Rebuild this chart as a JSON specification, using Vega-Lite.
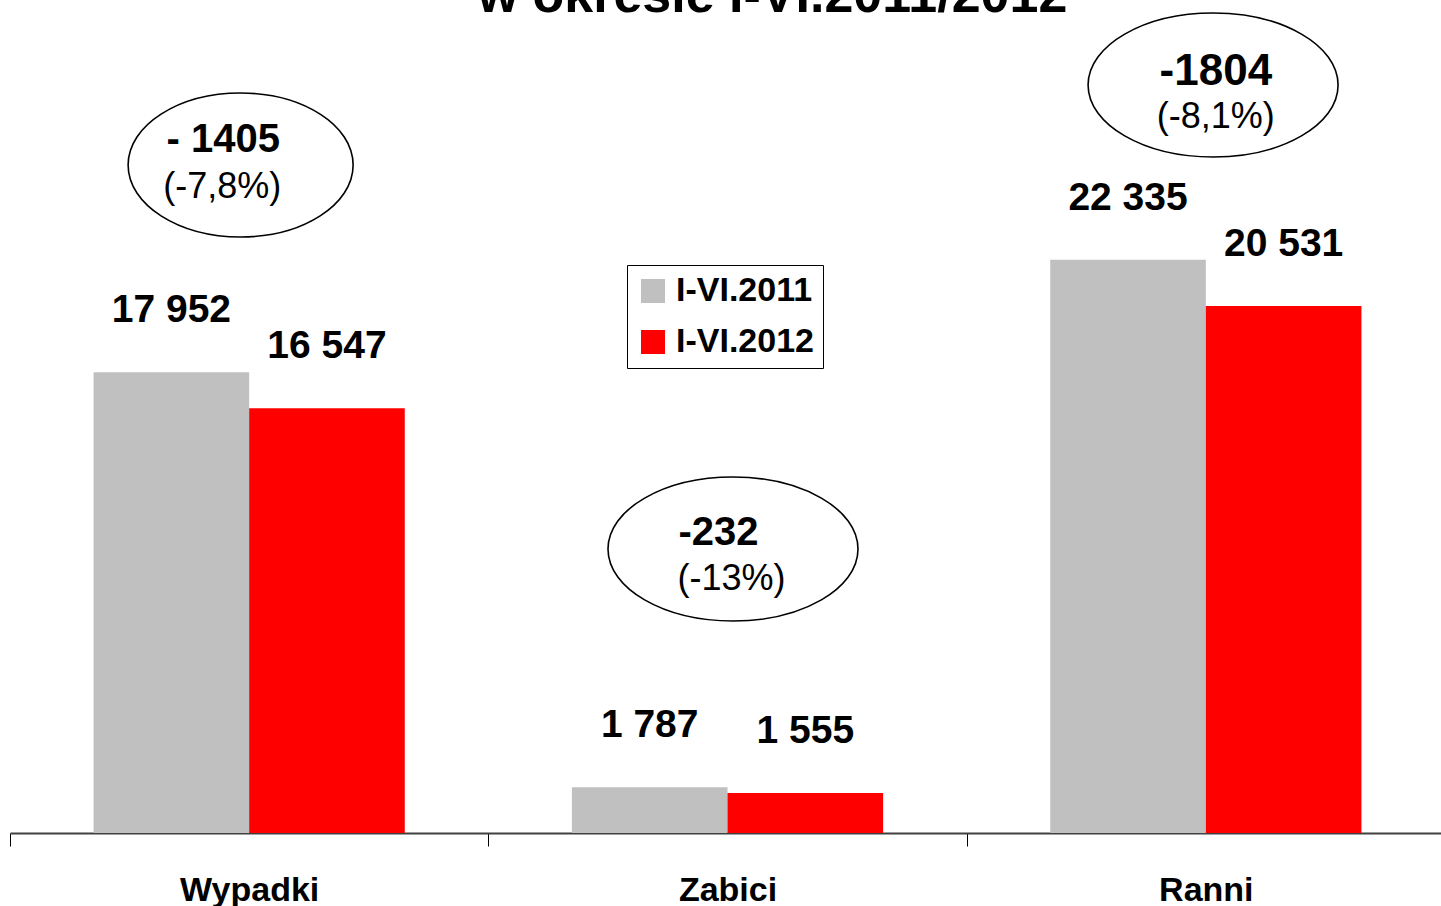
{
  "$schema": "https://vega.github.io/schema/vega-lite/v6.json",
  "width": 1441,
  "height": 833,
  "padding": {"left": 0, "top": 0, "right": 0, "bottom": 73},
  "autosize": {"type": "none"},
  "background": "white",
  "config": {
    "view": {"stroke": null},
    "font": "Liberation Sans",
    "locale": {"number": {"decimal": ",", "thousands": " ", "grouping": [3], "currency": ["", " zł"]}}
  },
  "datasets": {
    "bars": [
      {"category": "Wypadki", "year": "I-VI.2011", "value": 17952},
      {"category": "Wypadki", "year": "I-VI.2012", "value": 16547},
      {"category": "Zabici", "year": "I-VI.2011", "value": 1787},
      {"category": "Zabici", "year": "I-VI.2012", "value": 1555},
      {"category": "Ranni", "year": "I-VI.2011", "value": 22335},
      {"category": "Ranni", "year": "I-VI.2012", "value": 20531}
    ],
    "changes": [
      {"category": "Wypadki", "diff": "- 1405", "pct": "(-7,8%)"},
      {"category": "Zabici", "diff": "-232", "pct": "(-13%)"},
      {"category": "Ranni", "diff": "-1804", "pct": "(-8,1%)"}
    ],
    "heading": [
      {"title": "w okresie I-VI.2011/2012"}
    ]
  },
  "layer": [
    {
      "data": {"name": "bars"},
      "mark": {"type": "bar"},
      "encoding": {
        "x": {
          "field": "category",
          "type": "nominal",
          "sort": ["Wypadki", "Zabici", "Ranni"],
          "scale": {"range": [10, 1445], "paddingInner": 0, "paddingOuter": 0},
          "axis": {
            "title": null,
            "labelFontSize": 34,
            "labelFontWeight": "bold",
            "labelFont": "Liberation Sans",
            "labelColor": "black",
            "labelAngle": 0,
            "labelBaseline": "alphabetic",
            "labelPadding": 54,
            "tickBand": "extent",
            "tickSize": 13,
            "tickColor": "black",
            "tickWidth": 1,
            "domainColor": "#404040",
            "domainWidth": 2,
            "grid": false
          }
        },
        "xOffset": {"field": "year", "type": "nominal", "scale": {"paddingOuter": 0.537, "paddingInner": 0}},
        "y": {"field": "value", "type": "quantitative", "scale": {"domain": [0, 32450], "nice": false}, "axis": null},
        "color": {
          "field": "year",
          "type": "nominal",
          "scale": {"domain": ["I-VI.2011", "I-VI.2012"], "range": ["#C0C0C0", "#FF0000"]},
          "legend": {
            "title": null,
            "orient": "none",
            "legendX": 627,
            "legendY": 265,
            "direction": "vertical",
            "symbolType": "square",
            "symbolSize": 576,
            "symbolStrokeWidth": 0,
            "labelFontSize": 34,
            "labelFontWeight": "bold",
            "labelFont": "Liberation Sans",
            "labelColor": "black",
            "labelOffset": 6,
            "strokeColor": "black",
            "fillColor": "white",
            "padding": 9,
            "rowPadding": 17
          }
        }
      }
    },
    {
      "data": {"name": "bars"},
      "mark": {"type": "text", "fontSize": 39, "fontWeight": "bold", "baseline": "alphabetic", "align": "center", "dy": -50, "color": "black"},
      "encoding": {
        "x": {"field": "category", "type": "nominal", "sort": ["Wypadki", "Zabici", "Ranni"]},
        "xOffset": {"field": "year", "type": "nominal"},
        "y": {"field": "value", "type": "quantitative", "axis": null},
        "text": {"field": "value", "type": "quantitative", "format": ",d"}
      }
    },
    {
      "data": {"name": "heading"},
      "mark": {"type": "text", "fontSize": 52, "fontWeight": "bold", "baseline": "alphabetic", "align": "center", "dx": 52, "color": "black"},
      "encoding": {
        "y": {"datum": 31990, "type": "quantitative", "axis": null},
        "text": {"field": "title"}
      }
    },
    {
      "data": {"name": "changes"},
      "transform": [{"filter": "datum.category === 'Wypadki'"}],
      "encoding": {
        "x": {"field": "category", "type": "nominal", "sort": ["Wypadki", "Zabici", "Ranni"]},
        "y": {"datum": 26022, "type": "quantitative", "axis": null}
      },
      "layer": [
        {"mark": {"type": "point", "shape": "M-1.076,0A1,0.64,0,1,1,0.924,0A1,0.64,0,1,1,-1.076,0Z", "size": 50625, "filled": false, "stroke": "black", "strokeWidth": 1.6, "opacity": 1}},
        {"mark": {"type": "text", "fontSize": 40, "fontWeight": "bold", "baseline": "alphabetic", "align": "center", "dx": -26, "dy": -13, "color": "black"}, "encoding": {"text": {"field": "diff"}}},
        {"mark": {"type": "text", "fontSize": 36, "baseline": "alphabetic", "align": "center", "dx": -27, "dy": 33, "color": "black"}, "encoding": {"text": {"field": "pct"}}}
      ]
    },
    {
      "data": {"name": "changes"},
      "transform": [{"filter": "datum.category === 'Zabici'"}],
      "encoding": {
        "x": {"field": "category", "type": "nominal", "sort": ["Wypadki", "Zabici", "Ranni"]},
        "y": {"datum": 11063, "type": "quantitative", "axis": null}
      },
      "layer": [
        {"mark": {"type": "point", "shape": "M-0.956,0A1,0.576,0,1,1,1.044,0A1,0.576,0,1,1,-0.956,0Z", "size": 62500, "filled": false, "stroke": "black", "strokeWidth": 1.6, "opacity": 1}},
        {"mark": {"type": "text", "fontSize": 40, "fontWeight": "bold", "baseline": "alphabetic", "align": "center", "dx": -9, "dy": -4, "color": "black"}, "encoding": {"text": {"field": "diff"}}},
        {"mark": {"type": "text", "fontSize": 36, "baseline": "alphabetic", "align": "center", "dx": 4, "dy": 41, "color": "black"}, "encoding": {"text": {"field": "pct"}}}
      ]
    },
    {
      "data": {"name": "changes"},
      "transform": [{"filter": "datum.category === 'Ranni'"}],
      "encoding": {
        "x": {"field": "category", "type": "nominal", "sort": ["Wypadki", "Zabici", "Ranni"]},
        "y": {"datum": 29139, "type": "quantitative", "axis": null}
      },
      "layer": [
        {"mark": {"type": "point", "shape": "M-0.942,0A1,0.576,0,1,1,1.058,0A1,0.576,0,1,1,-0.942,0Z", "size": 62500, "filled": false, "stroke": "black", "strokeWidth": 1.6, "opacity": 1}},
        {"mark": {"type": "text", "fontSize": 44, "fontWeight": "bold", "baseline": "alphabetic", "align": "center", "dx": 10, "dy": 0, "color": "black"}, "encoding": {"text": {"field": "diff"}}},
        {"mark": {"type": "text", "fontSize": 36, "baseline": "alphabetic", "align": "center", "dx": 10, "dy": 43, "color": "black"}, "encoding": {"text": {"field": "pct"}}}
      ]
    }
  ]
}
